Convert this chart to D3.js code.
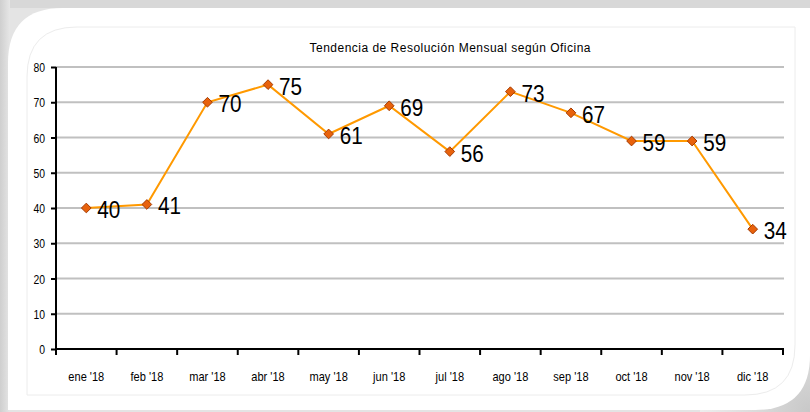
<!DOCTYPE html>
<html><head><meta charset="utf-8">
<script src="https://cdn.jsdelivr.net/npm/d3@7"></script>
<style>html,body{margin:0;padding:0;background:#fff;}svg{display:block;}</style>
</head><body>
<svg id="c" width="810" height="412"></svg>
<script>
const categories = ["ene '18","feb '18","mar '18","abr '18","may '18","jun '18","jul '18","ago '18","sep '18","oct '18","nov '18","dic '18"];
const values = [40,41,70,75,61,69,56,73,67,59,59,34];
const yTicks = [0,10,20,30,40,50,60,70,80];
const title = "Tendencia de Resolución Mensual según Oficina";

const svg = d3.select("#c");
const W = 810, H = 412;
const defs = svg.append("defs");
const lg = defs.append("linearGradient").attr("id","bgL").attr("x1","0").attr("x2","1").attr("y1","0").attr("y2","0");
lg.append("stop").attr("offset","0").attr("stop-color","#cfcfcf");
lg.append("stop").attr("offset","1").attr("stop-color","#e6e6e6");
const rg = defs.append("radialGradient").attr("id","bgBR").attr("cx","1").attr("cy","1").attr("r","1");
rg.append("stop").attr("offset","0").attr("stop-color","#c8c8c8");
rg.append("stop").attr("offset","1").attr("stop-color","#eeeeee");

svg.append("rect").attr("width",W).attr("height",H).attr("fill","#e4e4e4");
svg.append("rect").attr("width",W).attr("height",8).attr("fill","#d8d8d8");
svg.append("rect").attr("width",10).attr("height",H).attr("fill","url(#bgL)");
svg.append("rect").attr("x",700).attr("y",300).attr("width",110).attr("height",112).attr("fill","url(#bgBR)");

function panel(x0,y0,x1,y1,r){
  return `M${x0},${y0+r} Q${x0},${y0} ${x0+r},${y0} L${x1},${y0} L${x1},${y1-r} Q${x1},${y1} ${x1-r},${y1} L${x0},${y1} Z`;
}
svg.append("path").attr("d",panel(8,8,810,410,55)).attr("fill","#ffffff");
svg.append("path").attr("d",panel(27,27,795,395,50)).attr("fill","none").attr("stroke","#ececec").attr("stroke-width",1);

const x0 = 56, x1 = 783, yTop = 67, yBot = 349;
const x = d3.scaleBand().domain(categories).range([x0,x1]);
const y = d3.scaleLinear().domain([0,80]).range([yBot,yTop]);

const g = svg.append("g");
g.selectAll("line.grid").data(yTicks.filter(d=>d>0)).join("line")
  .attr("x1",x0).attr("x2",x1+1).attr("y1",d=>y(d)).attr("y2",d=>y(d))
  .attr("stroke","#c0c0c0").attr("stroke-width",2);

const yAxis = d3.axisLeft(y).tickValues(yTicks).tickSize(5).tickPadding(5).tickFormat(d3.format("d"));
const ya = g.append("g").attr("transform",`translate(${x0},0)`).call(yAxis);
ya.select(".domain").attr("stroke","#000").attr("stroke-width",2).attr("d",`M0,${yTop}V${yBot+1}`);
ya.selectAll(".tick line").attr("stroke","#000").attr("stroke-width",2);
ya.selectAll(".tick text").attr("font-family","Liberation Sans, Arial, sans-serif").attr("font-size",13).attr("fill","#000")
  .attr("x",0).attr("dy","0.35em").attr("text-anchor","end")
  .attr("transform","translate(-11,0) scale(0.8,1)");

const xTickPos = d3.range(categories.length+1).map(i=> x0 + i*x.step());
g.append("line").attr("x1",x0-1).attr("x2",x1+1).attr("y1",yBot).attr("y2",yBot).attr("stroke","#000").attr("stroke-width",2);
g.selectAll("line.xt").data(xTickPos).join("line").attr("class","xt")
  .attr("x1",d=>d).attr("x2",d=>d).attr("y1",yBot).attr("y2",yBot+6).attr("stroke","#000").attr("stroke-width",2);
g.selectAll("text.xl").data(categories).join("text").attr("class","xl")
  .attr("transform",d=>`translate(${x(d)+x.bandwidth()/2},381) scale(0.85,1)`)
  .attr("text-anchor","middle").attr("font-family","Liberation Sans, Arial, sans-serif").attr("font-size",13).attr("fill","#000")
  .text(d=>d);

svg.append("text").attr("x",450).attr("y",52).attr("text-anchor","middle")
  .attr("font-family","Liberation Sans, Arial, sans-serif").attr("font-size",12).attr("fill","#000")
  .attr("textLength",281).attr("lengthAdjust","spacing").text(title);

const cx = d => x(d)+x.bandwidth()/2;
const line = d3.line().x((d,i)=>cx(categories[i])).y(d=>y(d));
g.append("path").datum(values).attr("d",line).attr("fill","none").attr("stroke","#ff9900").attr("stroke-width",2);

g.selectAll("path.m").data(values).join("path").attr("class","m")
  .attr("d",d3.symbol().type(d3.symbolDiamond2).size(60))
  .attr("transform",(d,i)=>`translate(${cx(categories[i])},${y(d)})`)
  .attr("fill","#e8620c").attr("stroke","#a53a00").attr("stroke-width",1);

g.selectAll("text.dl").data(values).join("text").attr("class","dl")
  .attr("transform",(d,i)=>`translate(${cx(categories[i])+11},${y(d)+10}) scale(0.9,1)`)
  .attr("font-family","Liberation Sans, Arial, sans-serif").attr("font-size",23).attr("fill","#000")
  .text(d=>d);
</script>
</body></html>
